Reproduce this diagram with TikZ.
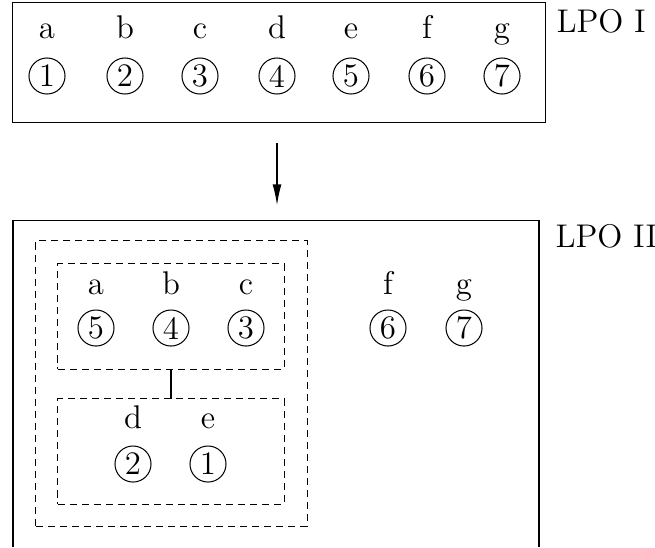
\documentclass[tikz,border=0pt]{standalone}
\usepackage{tikz}
\usetikzlibrary{positioning,arrows.meta}
\tikzset{
  num/.style={circle, draw, inner sep=0.5pt, minimum size=12.3pt},
  lbl/.style={anchor=base},
  grp/.style={draw, dash pattern=on 2.4pt off 1.7pt, inner sep=0pt, outer sep=0pt},
}

\begin{document}
\begin{tikzpicture}[x=0.012cm, y=-0.012cm, line width=0.35pt, font=\fontsize{11.2}{13.5}\selectfont]
    \useasboundingbox (0,0) rectangle (655,547);

    % LPO I
    \node[draw, inner sep=0pt, minimum width=6.384cm, minimum height=1.428cm] (lpoA) at (279,62.5) {};
    \foreach \l/\n/\x in {a/1/47, b/2/125, c/3/200, d/4/277, e/5/351, f/6/427, g/7/502} {
        \node[lbl] (tA\l) at (\x,38) {\l};
        \node[num] (nA\l) at (\x,76) {\n};
    }
    \node[anchor=base west, inner sep=0pt] (nameA) at (556,32) {LPO I};

    \coordinate (arrS) at (277,143);
    \coordinate (arrE) at (277,205);
    \draw[-{Latex[length=7pt,width=3pt]}] (arrS) -- (arrE);

    % LPO II
    \draw (13,547) -- (13,220) -- (539,220) -- (539,547);
    \node[anchor=base west, inner sep=0pt] (nameB) at (555,247) {LPO II};

    \node[grp, minimum width=3.252cm, minimum height=3.42cm] (outer) at (171.5,383.5) {};
    \node[grp, minimum width=2.712cm, minimum height=1.26cm] (upper) at (171,316.5) {};
    \node[grp, minimum width=2.712cm, minimum height=1.26cm] (lower) at (171,451.5) {};
    \draw (upper.south) -- (lower.north);

    \foreach \l/\n/\x in {a/5/96, b/4/171, c/3/246} {
        \node[lbl] (tB\l) at (\x,294) {\l};
        \node[num] (nB\l) at (\x,328) {\n};
    }
    \foreach \l/\n/\x in {d/2/133, e/1/208} {
        \node[lbl] (tB\l) at (\x,428) {\l};
        \node[num] (nB\l) at (\x,464) {\n};
    }
    \foreach \l/\n/\x in {f/6/388, g/7/464} {
        \node[lbl] (tB\l) at (\x,294) {\l};
        \node[num] (nB\l) at (\x,328) {\n};
    }
\end{tikzpicture}
\end{document}
